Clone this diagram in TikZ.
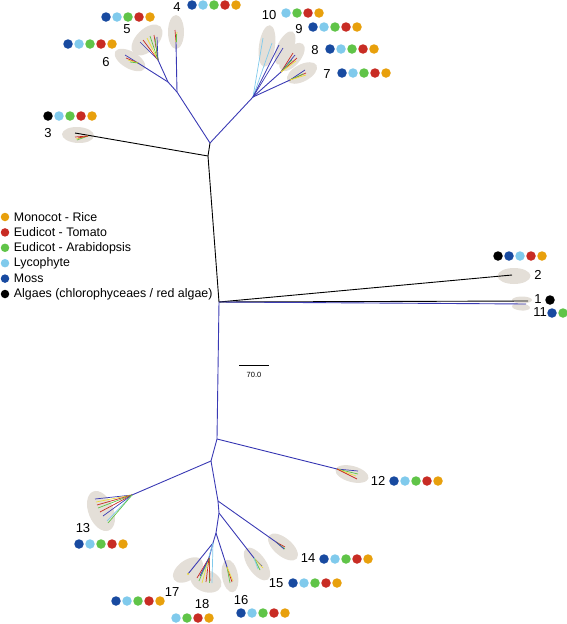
\documentclass[tikz,border=0pt]{standalone}
\usepackage{fontspec}
\setmainfont{Liberation Sans}
\usetikzlibrary{calc,positioning,shapes.geometric}
\definecolor{RiceOrange}{RGB}{232,160,12}
\definecolor{TomatoRed}{RGB}{200,44,36}
\definecolor{ArabGreen}{RGB}{96,196,72}
\definecolor{LycoCyan}{RGB}{128,202,236}
\definecolor{MossBlue}{RGB}{24,74,160}
\definecolor{TreeBlue}{RGB}{58,58,180}
\definecolor{CladeGray}{RGB}{228,223,216}
\definecolor{TipYellow}{RGB}{236,222,64}

\begin{document}
\begin{tikzpicture}[x=1pt,y=-1pt,br/.style={TreeBlue,line width=0.9pt},bk/.style={black,line width=0.9pt},tip/.style={line width=0.7pt},
clade/.style={ellipse,fill=CladeGray,inner sep=0pt},dot/.style={circle,inner sep=0pt,minimum size=9.5pt},
lab/.style={inner sep=0pt,font=\fontsize{13}{15}\selectfont},leg/.style={inner sep=0pt,font=\fontsize{12.4}{14}\selectfont}]
\useasboundingbox (0,0) rectangle (567,624);
% clade shading
\node[clade,minimum width=16pt,minimum height=34pt] (e4) at (176,32) {};\node[clade,minimum width=38pt,minimum height=22pt,rotate=45] (e5) at (147,40) {};
\node[clade,minimum width=34pt,minimum height=17pt,rotate=-30] (e6) at (130,60) {};\node[clade,minimum width=32pt,minimum height=16pt,rotate=-3] (e3) at (78,135) {};
\node[clade,minimum width=16pt,minimum height=42pt,rotate=-8] (e10) at (267,46) {};\node[clade,minimum width=16pt,minimum height=36pt,rotate=-25] (e9) at (285,48) {};
\node[clade,minimum width=17pt,minimum height=34pt,rotate=-40] (e8) at (292,57) {};\node[clade,minimum width=33pt,minimum height=17pt,rotate=28] (e7) at (302,73) {};
\node[clade,minimum width=33pt,minimum height=16pt] (e2) at (514,276) {};\node[clade,minimum width=20pt,minimum height=7pt] (e1) at (522,300) {};
\node[clade,minimum width=18pt,minimum height=7pt,rotate=-5] (e11) at (521,307) {};\node[clade,minimum width=34pt,minimum height=16pt,rotate=-15] (e12) at (352,474) {};
\node[clade,minimum width=25pt,minimum height=42pt,rotate=22] (e13) at (101,511) {};\node[clade,minimum width=36pt,minimum height=18pt,rotate=-40] (e14) at (283,547) {};
\node[clade,minimum width=38pt,minimum height=18pt,rotate=-55] (e15) at (257,564) {};\node[clade,minimum width=16pt,minimum height=33pt,rotate=10] (e16) at (230,576) {};
\node[clade,minimum width=34pt,minimum height=20pt,rotate=35] (e17) at (188,570) {};\node[clade,minimum width=32pt,minimum height=22pt,rotate=-20] (e18) at (206,581) {};
% tree
\coordinate (tA) at (210,143);\coordinate (t3) at (208,156);\coordinate (tB) at (219,302);\coordinate (tC) at (217,439);
\coordinate (c3) at (75,133);\coordinate (c2) at (512,275);\coordinate (c1) at (528,301);\coordinate (c11) at (526,304);
\coordinate (u1) at (177,92);\coordinate (u2) at (168,82);\coordinate (u5) at (158,60);\coordinate (u4) at (176,42);\coordinate (u6) at (138,63);
\coordinate (u7) at (253,97);\coordinate (u8) at (281,72);\coordinate (u9) at (290,80);
\coordinate (l1) at (211,461);\coordinate (l2) at (218,501);\coordinate (l3) at (219,513);\coordinate (l4) at (216,533);\coordinate (l5) at (213,543);
\coordinate (u12) at (337,469);\coordinate (u13) at (132,495);\coordinate (u14) at (276,542);\coordinate (u15) at (254,558);
\coordinate (u16) at (227,567);\coordinate (c17) at (188,574);\coordinate (u18) at (209,558);
\draw[bk] (tA) -- (t3) -- (tB);\draw[bk] (t3) -- (c3);\draw[bk] (tB) -- (c2);\draw[bk] (tB) -- (c1);
\draw[br] (tB) -- (tC);\draw[br] (tB) -- (c11);
\draw[br] (tA) -- (u1) -- (u4);\draw[br] (u1) -- (u2) -- (u5);\draw[br] (u2) -- (u6);
\draw[br] (tA) -- (u7) -- (u8);\draw[br] (u7) -- (u9);
\draw[br] (tC) -- (u12);\draw[br] (tC) -- (l1) -- (u13);\draw[br] (l1) -- (l2) -- (u14);\draw[br] (l2) -- (l3) -- (u15);
\draw[br] (l3) -- (l4) -- (u16);\draw[br] (l4) -- (l5) -- (c17);\draw[br] (l5) -- (u18);
% tips
\foreach \c/\dx/\dy in {TomatoRed/-13/1,TipYellow/-12/3,ArabGreen/-11/4,TomatoRed/-10/2} \draw[tip,\c] ($(c3)+(13,3)$) -- +(\dx,\dy);
\foreach \c/\dx/\dy in {TomatoRed/-1/-12,TipYellow/1/-10,ArabGreen/0/-8} \draw[tip,\c] (u4) -- +(\dx,\dy);
\foreach \c/\dx/\dy in {TreeBlue/-18/-18,TomatoRed/-15/-20,TipYellow/-11/-22,ArabGreen/-8/-24,TomatoRed/-4/-25,ArabGreen/-3/-22,TreeBlue/-1/-23} \draw[tip,\c] (u5) -- +(\dx,\dy);
\foreach \c/\dx/\dy in {TreeBlue/-13/-8,TomatoRed/-12/-5,TipYellow/-10/-3,ArabGreen/-8/-1} \draw[tip,\c] (u6) -- +(\dx,\dy);
\foreach \c/\dx/\dy in {LycoCyan/10/-59,LycoCyan/19/-54,TreeBlue/26/-52,TreeBlue/30/-49} \draw[tip,\c] (u7) -- +(\dx,\dy);
\foreach \c/\dx/\dy in {TomatoRed/12/-19,TreeBlue/14/-17,TomatoRed/16/-14,ArabGreen/11/-12,TipYellow/15/-11} \draw[tip,\c] (u8) -- +(\dx,\dy);
\foreach \c/\dx/\dy in {TreeBlue/15/-10,TomatoRed/16/-7,ArabGreen/13/-6,TipYellow/16/-5} \draw[tip,\c] (u9) -- +(\dx,\dy);
\foreach \c/\dx/\dy in {TreeBlue/21/2,ArabGreen/21/5,TipYellow/19/7,TomatoRed/20/10} \draw[tip,\c] (u12) -- +(\dx,\dy);
\foreach \c/\dx/\dy in {TreeBlue/-37/4,TipYellow/-36/7,TomatoRed/-35/10,ArabGreen/-34/13,TomatoRed/-32/17,TreeBlue/-29/21,LycoCyan/-25/26,ArabGreen/-24/28} \draw[tip,\c] (u13) -- +(\dx,\dy);
\foreach \c/\dx/\dy in {TomatoRed/9/5,ArabGreen/9/7,TreeBlue/8/7} \draw[tip,\c] (u14) -- +(\dx,\dy);
\foreach \c/\dx/\dy in {TreeBlue/8/8,TipYellow/9/10,ArabGreen/6/12,LycoCyan/4/11} \draw[tip,\c] (u15) -- +(\dx,\dy);
\foreach \c/\dx/\dy in {TomatoRed/5/15,ArabGreen/3/16,TipYellow/6/14} \draw[tip,\c] (u16) -- +(\dx,\dy);
\fill[TipYellow] (c17) circle (1.2);
\draw[tip,LycoCyan] (l5) -- ($(l5)+(-8,27)$);\draw[tip,LycoCyan] (l5) -- ($(l5)+(-1,40)$);
\foreach \c/\dx/\dy in {TomatoRed/-12/20,ArabGreen/-10/23,TipYellow/-7/25,TomatoRed/-3/24,ArabGreen/0/25,TreeBlue/-9/18,TomatoRed/1/23} \draw[tip,\c] (u18) -- +(\dx,\dy);
% clade numbers
\node[lab] (n3) at (48,133) {3};\node[lab] (n4) at (177,7) {4};\node[lab] (n5) at (127,29) {5};\node[lab] (n6) at (106,62) {6};
\node[lab] (n10) at (269,15) {10};\node[lab] (n9) at (299,29) {9};\node[lab] (n8) at (315,50) {8};\node[lab] (n7) at (327,74) {7};
\node[lab] (n2) at (538,275) {2};\node[lab] (n1) at (538,299) {1};\node[lab] (n11) at (540,312) {11};\node[lab] (n12) at (378,481) {12};
\node[lab] (n13) at (83,528) {13};\node[lab] (n14) at (308,558) {14};\node[lab] (n15) at (276,583) {15};\node[lab] (n16) at (241,600) {16};
\node[lab] (n17) at (172,592) {17};\node[lab] (n18) at (202,604) {18};
% species dots
\foreach \n/\x/\y/\cols in {3/48/116/{black,LycoCyan,ArabGreen,TomatoRed,RiceOrange},4/192/5/{MossBlue,LycoCyan,ArabGreen,TomatoRed,RiceOrange},
 5/106/17/{MossBlue,LycoCyan,ArabGreen,TomatoRed,RiceOrange},6/68/44/{MossBlue,LycoCyan,ArabGreen,TomatoRed,RiceOrange},
 10/286/13/{LycoCyan,ArabGreen,TomatoRed,RiceOrange},9/313/27/{MossBlue,LycoCyan,ArabGreen,TomatoRed,RiceOrange},
 8/330/49/{MossBlue,LycoCyan,ArabGreen,TomatoRed,RiceOrange},7/342/73/{MossBlue,LycoCyan,ArabGreen,TomatoRed,RiceOrange},
 2/498/256/{black,MossBlue,LycoCyan,TomatoRed,RiceOrange},1/550/300/{black},11/552/313/{MossBlue,ArabGreen},
 12/394/481/{MossBlue,LycoCyan,ArabGreen,TomatoRed,RiceOrange},13/79/544/{MossBlue,LycoCyan,ArabGreen,TomatoRed,RiceOrange},
 14/324/559/{MossBlue,LycoCyan,ArabGreen,TomatoRed,RiceOrange},15/293/583/{MossBlue,LycoCyan,ArabGreen,TomatoRed,RiceOrange},
 16/241/613/{MossBlue,LycoCyan,ArabGreen,TomatoRed,RiceOrange},17/116/601/{MossBlue,LycoCyan,ArabGreen,TomatoRed,RiceOrange},
 18/176/618/{LycoCyan,ArabGreen,TomatoRed,RiceOrange}}
 \foreach \c [count=\i] in \cols \node[dot,fill=\c] (d\n-\i) at ({\x+(\i-1)*11},\y) {};
% legend
\foreach \c/\t [count=\i] in {RiceOrange/{Monocot - Rice},TomatoRed/{Eudicot - Tomato},ArabGreen/{Eudicot - Arabidopsis},LycoCyan/{Lycophyte},MossBlue/{Moss},black/{Algaes (chlorophyceaes / red algae)}}
 {\node[dot,minimum size=8.5pt,fill=\c] (k\i) at (5,{201.6+\i*15.4}) {};\node[leg,right=4.3pt of k\i] (t\i) {\t};}
% scale bar
\coordinate (s0) at (239,365);\coordinate (s1) at (269,365);\draw[bk,line width=0.7pt] (s0) -- (s1);
\node[font=\fontsize{7.5}{9}\selectfont,inner sep=0pt] (sl) at (254,374.5) {70.0};
\end{tikzpicture}
\end{document}
